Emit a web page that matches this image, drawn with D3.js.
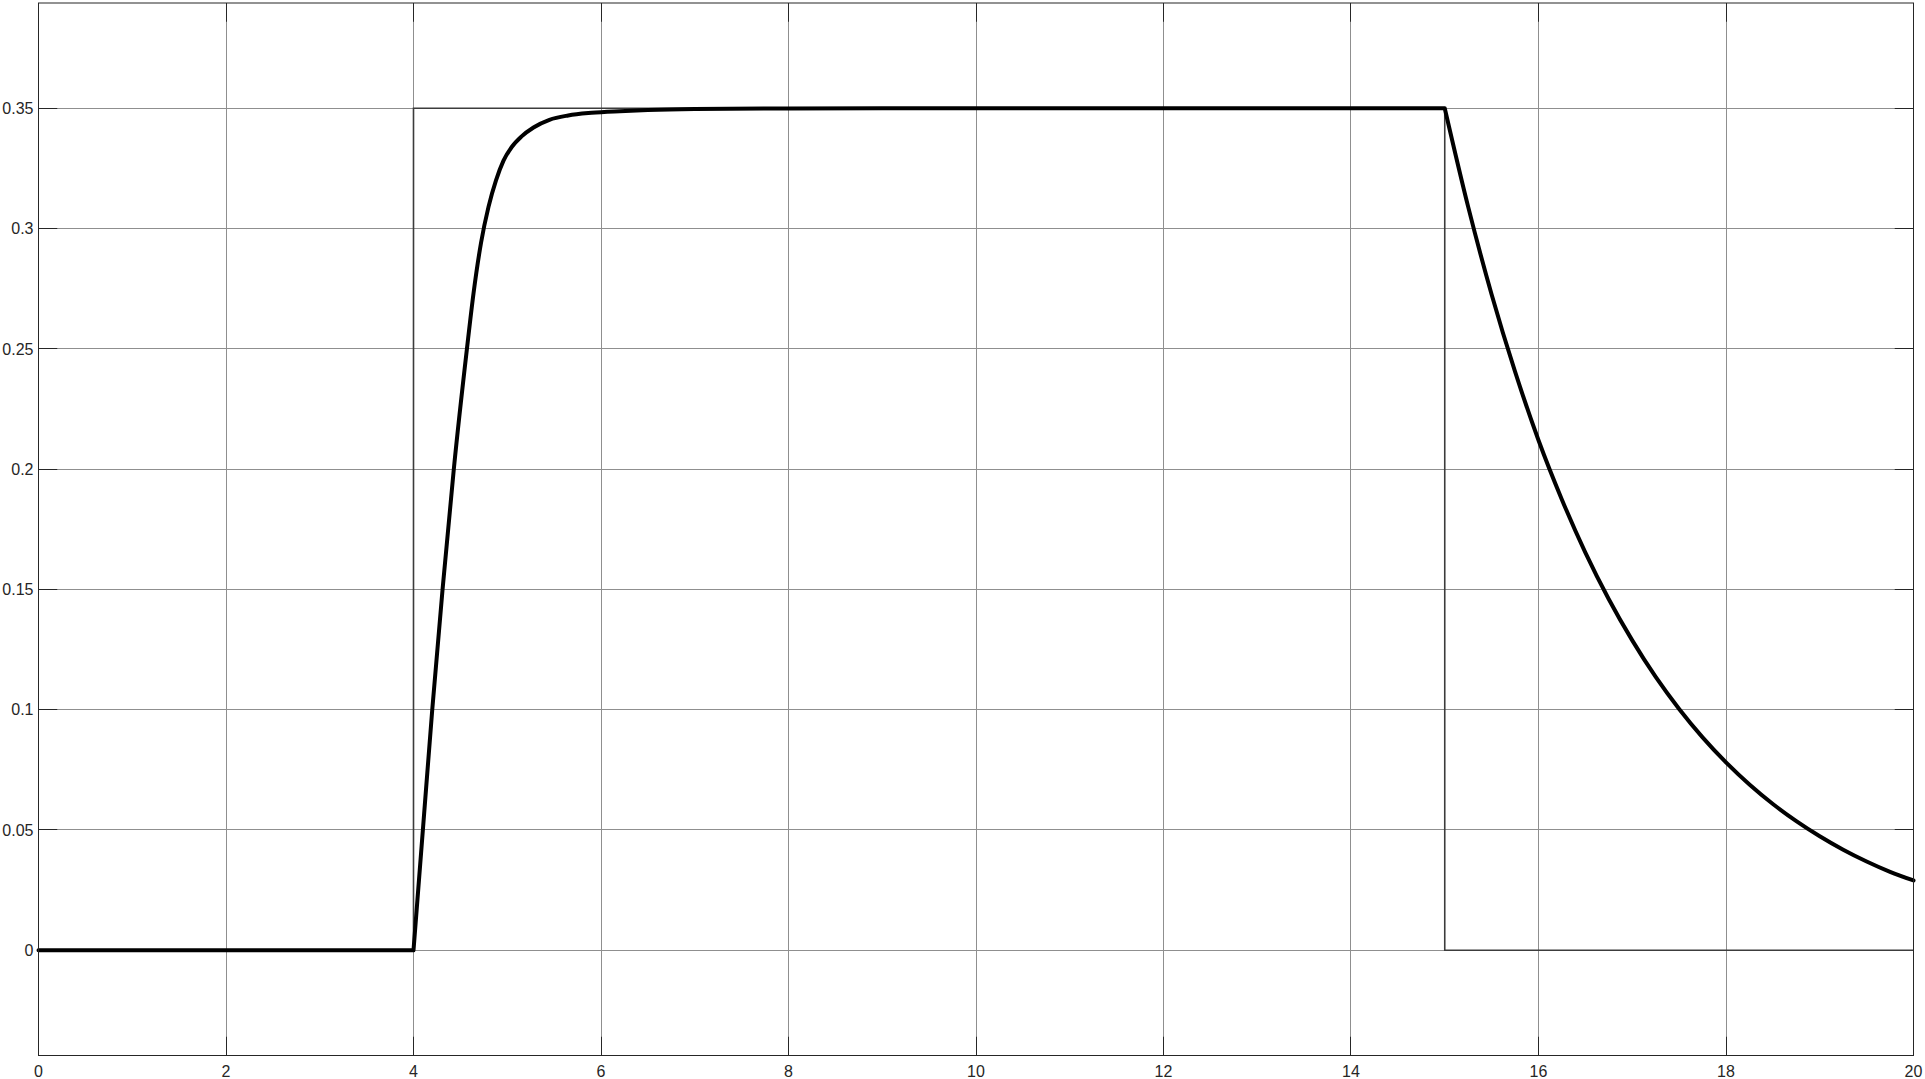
<!DOCTYPE html>
<html>
<head>
<meta charset="utf-8">
<script src="https://cdn.jsdelivr.net/npm/d3@7"></script>
<style>
  html, body { margin: 0; padding: 0; background: #ffffff; }
  svg { display: block; }
  text { font-family: "Liberation Sans", Arial, sans-serif; }
</style>
</head>
<body>
<svg id="chart" width="1925" height="1079"></svg>
<script>
// ---- data ----
const xTicks = [0, 2, 4, 6, 8, 10, 12, 14, 16, 18, 20];
const yTicks = [0, 0.05, 0.1, 0.15, 0.2, 0.25, 0.3, 0.35];
const yTickLabels = ["0", "0.05", "0.1", "0.15", "0.2", "0.25", "0.3", "0.35"];
const xDomain = [0, 20];
const yDomain = [-0.04375, 0.39375];

// reference (step) signal
const refTime  = [0, 4, 4, 15, 15, 20];
const refValue = [0, 0, 0.35, 0.35, 0, 0];

// response signal
const respTime  = [0, 4, 4.10, 4.20, 4.31, 4.43, 4.57, 4.64, 4.72, 4.80, 4.88, 4.96, 5.05, 5.15, 5.28, 5.45, 5.65, 5.90, 6.2, 6.5, 7.0, 8.0, 9.0, 15,
                   15.25, 15.5, 15.75, 16.0, 16.25, 16.5, 16.75, 17.0, 17.25, 17.5, 17.75, 18.0, 18.25, 18.5, 18.75, 19.0, 19.25, 19.5, 19.75, 20];
const respValue = [0, 0, 0.05, 0.10, 0.15, 0.20, 0.25, 0.273, 0.294, 0.309, 0.320, 0.3282, 0.3340, 0.3382, 0.3420, 0.3452, 0.3470, 0.3481, 0.3488, 0.3493, 0.3497, 0.3499, 0.35, 0.35,
                   0.309, 0.2726, 0.2405, 0.212, 0.1873, 0.1653, 0.1459, 0.1288, 0.1136, 0.1003, 0.0885, 0.0781, 0.0689, 0.0608, 0.0537, 0.0474, 0.0418, 0.0369, 0.0326, 0.0290];

(function () {
  // ---- layout ----
  const pL = 38.5, pR = 1913.5, pT = 3, pB = 1055.5;
  const tickLen = 18.75;

  const svg = d3.select("#chart");
  const x = d3.scaleLinear().domain(xDomain).range([pL, pR]);
  const y = d3.scaleLinear().domain(yDomain).range([pB, pT]);

  const snap = v => Math.round(v - 0.5) + 0.5;

  // grid
  const grid = svg.append("g");
  grid.selectAll("line.gx").data(xTicks).join("line")
    .attr("x1", d => snap(x(d))).attr("x2", d => snap(x(d)))
    .attr("y1", pT).attr("y2", pB)
    .attr("stroke", "#8f8f8f").attr("stroke-width", 1);
  grid.selectAll("line.gy").data(yTicks).join("line")
    .attr("y1", d => snap(y(d))).attr("y2", d => snap(y(d)))
    .attr("x1", pL).attr("x2", pR)
    .attr("stroke", "#8f8f8f").attr("stroke-width", 1);

  // tick marks (inward, all four sides)
  const ticks = svg.append("g").attr("stroke", "#262626").attr("stroke-width", 1);
  ticks.selectAll("line.tb").data(xTicks).join("line")
    .attr("x1", d => snap(x(d))).attr("x2", d => snap(x(d)))
    .attr("y1", pB).attr("y2", pB - tickLen);
  ticks.selectAll("line.tt").data(xTicks).join("line")
    .attr("x1", d => snap(x(d))).attr("x2", d => snap(x(d)))
    .attr("y1", pT).attr("y2", pT + tickLen);
  ticks.selectAll("line.tl").data(yTicks).join("line")
    .attr("y1", d => snap(y(d))).attr("y2", d => snap(y(d)))
    .attr("x1", pL).attr("x2", pL + tickLen);
  ticks.selectAll("line.tr").data(yTicks).join("line")
    .attr("y1", d => snap(y(d))).attr("y2", d => snap(y(d)))
    .attr("x1", pR).attr("x2", pR - tickLen);

  // reference step line
  const refData = refTime.map((t, i) => [t, refValue[i]]);
  svg.append("path")
    .attr("d", d3.line().x(d => x(d[0])).y(d => y(d[1]))(refData))
    .attr("fill", "none").attr("stroke", "#3c3c3c").attr("stroke-width", 1.6);

  // response line, smooth pieces joined at the sharp corners
  const respData = respTime.map((t, i) => [t, respValue[i]]);
  const i4 = respTime.indexOf(4), i15 = respTime.indexOf(15);
  const smooth = d3.line().x(d => x(d[0])).y(d => y(d[1])).curve(d3.curveMonotoneX);
  const dStr = smooth(respData.slice(0, i4 + 1)) +
               smooth(respData.slice(i4, i15 + 1)) +
               smooth(respData.slice(i15));
  svg.append("path")
    .attr("d", dStr)
    .attr("fill", "none").attr("stroke", "#000000").attr("stroke-width", 4)
    .attr("stroke-linejoin", "round").attr("stroke-linecap", "round");

  // axes box
  svg.append("rect")
    .attr("x", pL).attr("y", pT).attr("width", pR - pL).attr("height", pB - pT)
    .attr("fill", "none").attr("stroke", "#262626").attr("stroke-width", 1);

  // tick labels
  svg.append("g").selectAll("text").data(xTicks).join("text")
    .attr("x", d => x(d)).attr("y", 1077)
    .attr("text-anchor", "middle")
    .attr("font-size", 16).attr("fill", "#262626")
    .text(d => d);
  svg.append("g").selectAll("text").data(yTicks).join("text")
    .attr("x", 33.5).attr("y", d => y(d)).attr("dy", "0.36em")
    .attr("text-anchor", "end")
    .attr("font-size", 16).attr("fill", "#262626")
    .text((d, i) => yTickLabels[i]);
})();
</script>
</body>
</html>
